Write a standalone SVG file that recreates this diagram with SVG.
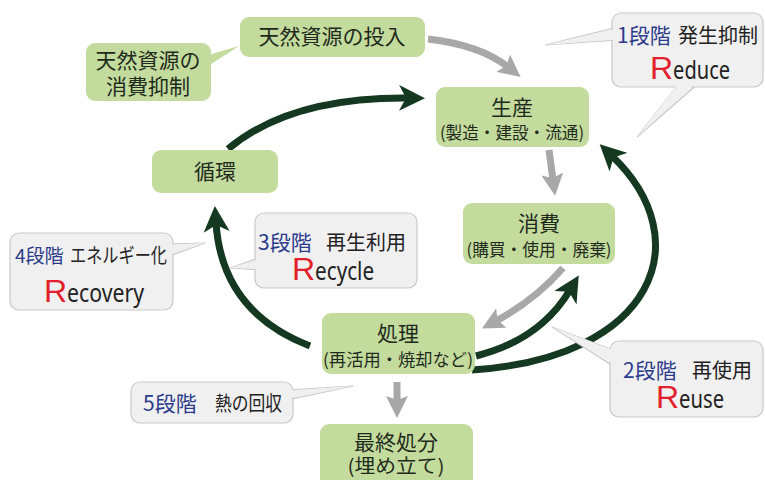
<svg xmlns="http://www.w3.org/2000/svg" width="765" height="480" viewBox="0 0 765 480">
<defs>
<style>
.node{fill:#c3dc9e;}
.nt{font-family:"Noto Sans CJK JP","Noto Sans",sans-serif;fill:#1f2a1c;text-anchor:middle;font-size:21px;}
.sub{font-size:17px;}
.call{fill:#f0f0f0;stroke:#c9c9c9;stroke-width:1.2;}
.tailf{fill:#f0f0f0;}
.ct{font-family:"Noto Sans CJK JP","Noto Sans",sans-serif;font-size:20px;fill:#222;}
.stage{fill:#2b3b8c;font-size:21px;}
.R{font-family:"Liberation Sans","Noto Sans",sans-serif;font-size:32px;fill:#e3202b;}
.rest{font-family:"Noto Sans","Liberation Sans",sans-serif;font-size:26px;fill:#222;}
.grey{fill:none;stroke:#a8a8a8;stroke-width:7;}
.dark{fill:none;stroke:#143820;stroke-width:7;}
</style>
<marker id="ag" markerUnits="userSpaceOnUse" markerWidth="22" markerHeight="22" viewBox="0 0 22 22" refX="6" refY="11" orient="auto">
<path d="M0,0 L22,11 L0,22 L4,11 z" fill="#a8a8a8"/>
</marker>
<marker id="ad" markerUnits="userSpaceOnUse" markerWidth="26" markerHeight="26" viewBox="0 0 26 26" refX="9" refY="13" orient="auto">
<path d="M0,0 L26,13 L0,26 L7,13 z" fill="#143820"/>
</marker>
</defs>
<rect width="765" height="480" fill="#ffffff"/>

<g id="connectors">
<path class="grey" d="M428,39 Q480,45 508,67" marker-end="url(#ag)"/>
<path class="grey" d="M549,150 L553,180" marker-end="url(#ag)"/>
<path class="grey" d="M563,268 Q535,300 496,321" marker-end="url(#ag)"/>
<path class="grey" d="M397,382 L397,402" marker-end="url(#ag)"/>
<path class="dark" d="M228,149 Q290,97 408,98" marker-end="url(#ad)"/>
<path class="dark" d="M310,346 Q222,312 216,223" marker-end="url(#ad)"/>
<path class="dark" d="M476,356 Q540,340 570,290" marker-end="url(#ad)"/>
<path class="dark" d="M472,370 C655,358 700,240 612,156" marker-end="url(#ad)"/>
</g>

<g id="n_input">
<rect class="node" x="240" y="17" width="185" height="40" rx="9"/>
<text class="nt" x="332" y="44">天然資源の投入</text>
</g>

<g id="n_suppress">
<polygon class="node" points="205,56 239,46 205,68"/>
<rect class="node" x="86" y="43" width="125" height="58" rx="9"/>
<text class="nt"><tspan x="148" y="68">天然資源の</tspan><tspan x="148" y="94">消費抑制</tspan></text>
</g>

<g id="n_prod">
<rect class="node" x="436" y="87" width="153" height="60" rx="9"/>
<text class="nt"><tspan x="512" y="115">生産</tspan><tspan class="sub" x="512" y="139" textLength="144" lengthAdjust="spacingAndGlyphs">(製造・建設・流通)</tspan></text>
</g>

<g id="n_cons">
<rect class="node" x="463" y="203" width="152" height="61" rx="9"/>
<text class="nt"><tspan x="539" y="231">消費</tspan><tspan class="sub" x="539" y="256" textLength="145" lengthAdjust="spacingAndGlyphs">(購買・使用・廃棄)</tspan></text>
</g>

<g id="n_proc">
<rect class="node" x="322" y="313" width="153" height="61" rx="9"/>
<text class="nt"><tspan x="398" y="341">処理</tspan><tspan class="sub" x="398" y="366" textLength="150" lengthAdjust="spacingAndGlyphs">(再活用・焼却など)</tspan></text>
</g>

<g id="n_final">
<rect class="node" x="320" y="424" width="153" height="70" rx="9"/>
<text class="nt"><tspan x="396" y="450">最終処分</tspan><tspan style="font-size:19px" x="396" y="473" textLength="97" lengthAdjust="spacingAndGlyphs">(埋め立て)</tspan></text>
</g>

<g id="n_cycle">
<rect class="node" x="152" y="150" width="126" height="43" rx="9"/>
<text class="nt" x="215" y="179">循環</text>
</g>

<g id="c_reduce">
<polygon class="call" points="618,27 545,45 618,40"/>
<polygon class="call" points="680,82 637,137 700,82"/>
<rect class="call" x="612" y="13" width="151" height="74" rx="9"/>
<polygon class="tailf" points="620,28 545,45 620,39"/>
<polygon class="tailf" points="681,80 637,137 699,80"/>
<text class="ct"><tspan class="stage" x="617" y="43">1段階</tspan><tspan x="678" y="43">発生抑制</tspan><tspan class="R" x="650" y="79">R</tspan><tspan class="rest" textLength="57" lengthAdjust="spacingAndGlyphs">educe</tspan></text>
</g>

<g id="c_recovery">
<polygon class="call" points="167,244 205,243 167,257"/>
<rect class="call" x="10" y="233" width="163" height="77" rx="9"/>
<polygon class="tailf" points="165,245 205,243 165,256"/>
<text class="ct"><tspan class="stage" style="font-size:19px" x="15" y="263">4段階</tspan><tspan x="70" y="263" textLength="97" lengthAdjust="spacingAndGlyphs">エネルギー化</tspan><tspan class="R" x="44" y="302">R</tspan><tspan class="rest" textLength="77" lengthAdjust="spacingAndGlyphs">ecovery</tspan></text>
</g>

<g id="c_recycle">
<polygon class="call" points="261,257 230,268 261,270"/>
<rect class="call" x="255" y="213" width="162" height="75" rx="9"/>
<polygon class="tailf" points="263,258 230,268 263,269"/>
<text class="ct"><tspan class="stage" x="258" y="250">3段階</tspan><tspan x="326" y="250">再生利用</tspan><tspan class="R" x="292" y="280">R</tspan><tspan class="rest" textLength="59" lengthAdjust="spacingAndGlyphs">ecycle</tspan></text>
</g>

<g id="c_reuse">
<polygon class="call" points="616,351 552,327 616,368"/>
<rect class="call" x="610" y="341" width="153" height="76" rx="9"/>
<polygon class="tailf" points="618,352 552,327 618,367"/>
<text class="ct"><tspan class="stage" x="623" y="378">2段階</tspan><tspan x="692" y="378">再使用</tspan><tspan class="R" x="656" y="408">R</tspan><tspan class="rest" textLength="45" lengthAdjust="spacingAndGlyphs">euse</tspan></text>
</g>

<g id="c_heat">
<polygon class="call" points="287,390 353,386 287,400"/>
<rect class="call" x="131" y="382" width="162" height="41" rx="9"/>
<polygon class="tailf" points="285,391 353,386 285,399"/>
<text class="ct"><tspan class="stage" x="143" y="411">5段階</tspan><tspan x="215" y="411" textLength="67" lengthAdjust="spacingAndGlyphs">熱の回収</tspan></text>
</g>
</svg>
